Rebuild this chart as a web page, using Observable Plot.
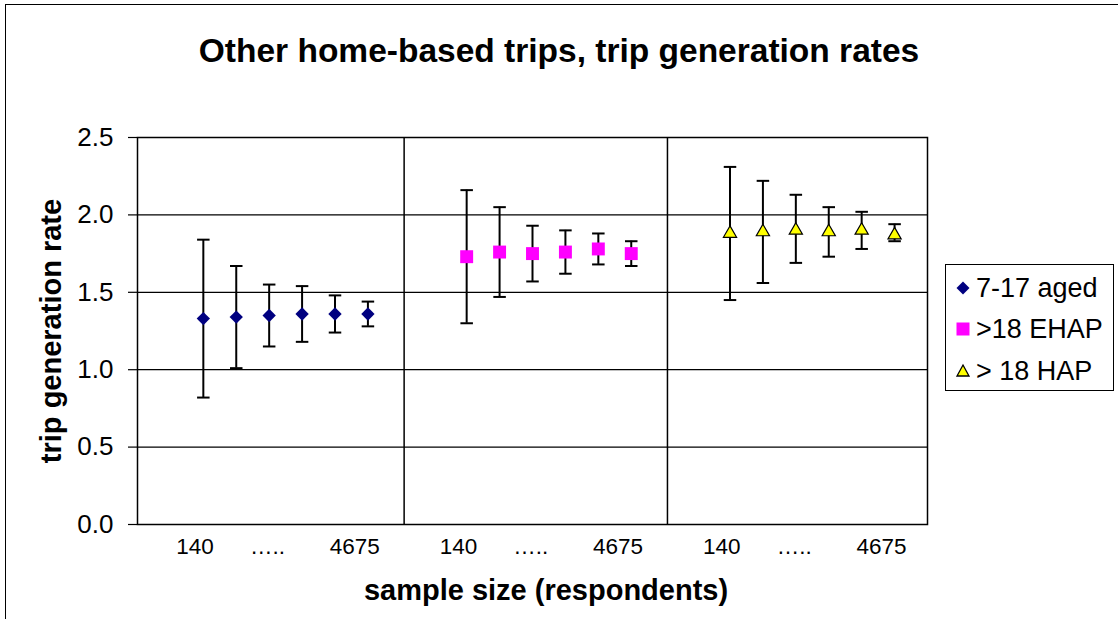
<!DOCTYPE html>
<html>
<head>
<meta charset="utf-8">
<script src="https://cdn.jsdelivr.net/npm/d3@7"></script>
<script src="https://cdn.jsdelivr.net/npm/@observablehq/plot@0.6"></script>
<style>
  html, body { margin: 0; padding: 0; background: #fff; overflow: hidden; }
  body { font-family: "Liberation Sans", Arial, sans-serif; }
  #wrap { position: relative; width: 1118px; height: 619px; overflow: hidden; }
  #border { position: absolute; left: 5px; top: 4px; width: 1200px; height: 700px; border: 1.5px solid #000; }
  .t { position: absolute; white-space: nowrap; color: #000; transform: translate(-50%, -50%); }
  #title { left: 559px; top: 51px; font-size: 33.5px; font-weight: bold; }
  #xtitle { left: 546px; top: 590px; font-size: 29px; font-weight: bold; }
  #ytitle { left: 51px; top: 331px; font-size: 29px; font-weight: bold; transform: translate(-50%, -50%) rotate(-90deg); }
  #legend { position: absolute; left: 945px; top: 264px; width: 167px; height: 125px; border: 1px solid #000; background: #fff; }
  .li { position: absolute; left: 8px; height: 30px; display: flex; align-items: center; font-size: 27px; }
  .li svg { width: 18px; height: 18px; margin-right: 4px; }
  #plot { position: absolute; left: 0; top: 0; }
</style>
</head>
<body>
<div id="wrap">
  <div id="border"></div>
  <div id="plot"></div>
  <div id="title" class="t"></div>
  <div id="xtitle" class="t"></div>
  <div id="ytitle" class="t"></div>
  <div id="legend"></div>
</div>
<script>
// ---- data ----
const chartTitle = "Other home-based trips, trip generation rates";
const xTitle = "sample size (respondents)";
const yTitle = "trip generation rate";
const groups = ["7-17 aged", ">18 EHAP", "> 18 HAP"];
const sampleTickLabels = ["140", "…..", "4675"];
const yTicks = [0, 0.5, 1.0, 1.5, 2.0, 2.5];

const rateAged = [1.33, 1.34, 1.35, 1.36, 1.36, 1.36];
const highAged = [1.84, 1.67, 1.55, 1.54, 1.48, 1.44];
const lowAged  = [0.82, 1.01, 1.15, 1.18, 1.24, 1.28];

const rateEHAP = [1.73, 1.76, 1.75, 1.76, 1.78, 1.75];
const highEHAP = [2.16, 2.05, 1.93, 1.90, 1.88, 1.83];
const lowEHAP  = [1.30, 1.47, 1.57, 1.62, 1.68, 1.67];

const rateHAP = [1.88, 1.89, 1.90, 1.89, 1.90, 1.87];
const highHAP = [2.31, 2.22, 2.13, 2.05, 2.02, 1.94];
const lowHAP  = [1.45, 1.56, 1.69, 1.73, 1.78, 1.83];

// ---- build table ----
const rates = [rateAged, rateEHAP, rateHAP];
const highs = [highAged, highEHAP, highHAP];
const lows = [lowAged, lowEHAP, lowHAP];
const panelWidth = 8, firstSlot = 2;
const data = groups.flatMap((g, gi) => rates[gi].map((v, i) => ({
  group: g, gi, x: gi * panelWidth + firstSlot + i, y: v, lo: lows[gi][i], hi: highs[gi][i]
})));
const tickOffsets = [1.75, 3.95, 6.6];
const tickData = groups.flatMap((g, gi) => sampleTickLabels.map((t, k) => ({label: t, x: gi * panelWidth + tickOffsets[k]})));
const panelBreaks = [panelWidth + 0.1, 2 * panelWidth + 0.1];

const styles = [
  {symbol: "diamond2", fill: "#000080", stroke: "none", r: 6},
  {symbol: "square", fill: "#FF00FF", stroke: "none", r: 7.3},
  {symbol: "triangle", fill: "#FFFF00", stroke: "#000", r: 4.9}
];
const capHalf = 0.19;

const plot = Plot.plot({
  width: 1118,
  height: 619,
  marginLeft: 137,
  marginRight: 191,
  marginTop: 137,
  marginBottom: 95,
  style: {fontFamily: "'Liberation Sans', Arial, sans-serif", fontSize: "26px", background: "transparent", color: "#000"},
  x: {domain: [0, 3 * panelWidth], axis: null},
  y: {domain: [0, 2.5], axis: null},
  marks: [
    Plot.ruleY(yTicks, {stroke: "#000", strokeWidth: 1.2}),
    Plot.ruleX(panelBreaks, {stroke: "#000", strokeWidth: 1.5}),
    Plot.frame({stroke: "#000", strokeWidth: 1.5}),
    Plot.axisY({ticks: yTicks, tickFormat: d3.format(".1f"), tickSize: 9, tickPadding: 15, label: null, stroke: "#000", strokeWidth: 1.2}),
    Plot.ruleX(data, {x: "x", y1: "lo", y2: "hi", stroke: "#000", strokeWidth: 2}),
    Plot.link(data, {x1: d => d.x - capHalf, x2: d => d.x + capHalf, y1: "hi", y2: "hi", stroke: "#000", strokeWidth: 2}),
    Plot.link(data, {x1: d => d.x - capHalf, x2: d => d.x + capHalf, y1: "lo", y2: "lo", stroke: "#000", strokeWidth: 2}),
    ...styles.map((s, gi) => Plot.dot(data.filter(d => d.gi === gi), {
      x: "x", y: "y", symbol: () => s.symbol, r: s.r, fill: s.fill, stroke: s.stroke, strokeWidth: 1.2
    })),
    Plot.text(tickData, {x: "x", text: "label", frameAnchor: "bottom", dy: 29, fontSize: 22.5, fill: "#000"})
  ]
});
document.getElementById("plot").appendChild(plot);

document.getElementById("title").textContent = chartTitle;
document.getElementById("xtitle").textContent = xTitle;
document.getElementById("ytitle").textContent = yTitle;

// legend
const swatch = [
  '<svg viewBox="-9 -9 18 18"><polygon points="0,-6.5 6.5,0 0,6.5 -6.5,0" fill="#000080"/></svg>',
  '<svg viewBox="-9 -9 18 18"><rect x="-6.5" y="-6.5" width="13" height="13" fill="#FF00FF"/></svg>',
  '<svg viewBox="-9 -9 18 18"><polygon points="0,-6 6,5 -6,5" fill="#FFFF00" stroke="#000" stroke-width="1.3"/></svg>'
];
const rowTops = [8, 49, 91];
const legend = document.getElementById("legend");
groups.forEach((g, i) => {
  const row = document.createElement("div");
  row.className = "li";
  row.style.top = rowTops[i] + "px";
  row.innerHTML = swatch[i] + "<span></span>";
  row.querySelector("span").textContent = g;
  legend.appendChild(row);
});
</script>
</body>
</html>
